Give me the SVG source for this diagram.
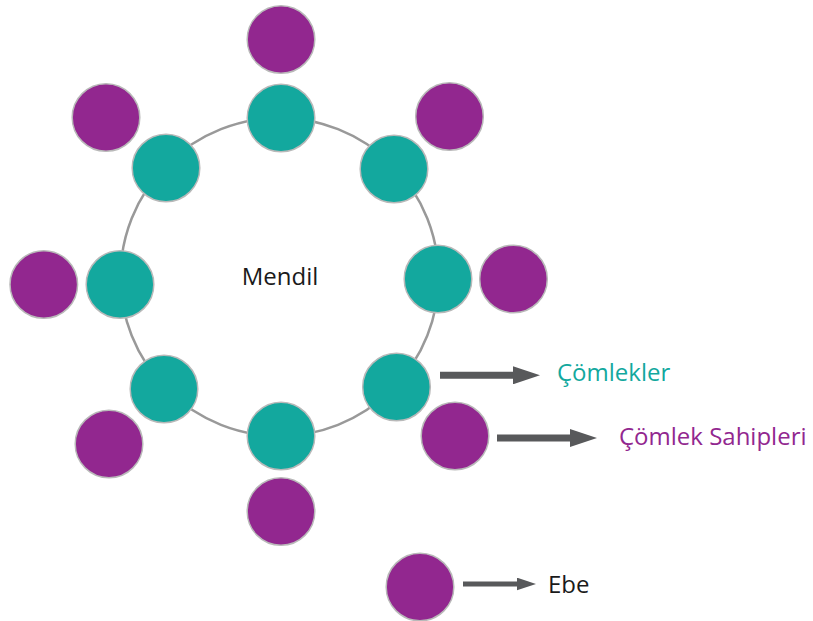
<svg xmlns="http://www.w3.org/2000/svg" width="813" height="621" viewBox="0 0 813 621">
  <style>
    .teal { fill: #13a89e; stroke: #b9b9b9; stroke-width: 1.5; }
    .purple { fill: #92278f; stroke: #b9b9b9; stroke-width: 1.5; }
    .ring { fill: none; stroke: #999999; stroke-width: 2.5; }
    .arrow { stroke: #58595b; fill: none; }
    .lbl { font-family: "Open Sans", "Noto Sans", "Liberation Sans", sans-serif; font-size: 24px; }
  </style>
  <defs>
    <marker id="head" viewBox="0 0 27 18" markerWidth="3.86" markerHeight="2.6" refX="1" refY="9" orient="auto" markerUnits="strokeWidth">
      <path d="M0,0 L27,9 L0,18 Z" fill="#58595b"/>
    </marker>
  </defs>
  <rect x="0" y="0" width="813" height="621" fill="#ffffff"/>

  <g id="mendil">
    <circle class="ring" cx="279.5" cy="277" r="159"/>
    <text class="lbl" x="280" y="285" text-anchor="middle" fill="#1a1a1a">Mendil</text>
  </g>

  <g id="comlekler">
    <circle id="teal-top" class="teal" cx="281" cy="118" r="33.8"/>
    <circle id="teal-upper-left" class="teal" cx="166" cy="168" r="33.8"/>
    <circle id="teal-left" class="teal" cx="120" cy="284.5" r="33.8"/>
    <circle id="teal-lower-left" class="teal" cx="164" cy="389" r="33.8"/>
    <circle id="teal-bottom" class="teal" cx="281" cy="436" r="33.8"/>
    <circle id="teal-lower-right" class="teal" cx="396.5" cy="387" r="33.8"/>
    <circle id="teal-right" class="teal" cx="438" cy="279" r="33.8"/>
    <circle id="teal-upper-right" class="teal" cx="394" cy="169" r="33.8"/>
  </g>

  <g id="sahipler">
    <circle id="purple-top" class="purple" cx="281" cy="39.5" r="33.8"/>
    <circle id="purple-upper-left" class="purple" cx="106" cy="117.5" r="33.8"/>
    <circle id="purple-upper-right" class="purple" cx="449.5" cy="116.5" r="33.8"/>
    <circle id="purple-left" class="purple" cx="43.8" cy="284.5" r="33.8"/>
    <circle id="purple-right" class="purple" cx="513.5" cy="279" r="33.8"/>
    <circle id="purple-lower-left" class="purple" cx="109" cy="444" r="33.8"/>
    <circle id="purple-bottom" class="purple" cx="281" cy="511.5" r="33.8"/>
    <circle id="purple-lower-right" class="purple" cx="455" cy="436" r="33.8"/>
  </g>

  <g id="ebe">
    <circle class="purple" cx="420" cy="587" r="33.8"/>
  </g>

  <g id="connectors">
    <line class="arrow" x1="440" y1="375.3" x2="514" y2="375.3" stroke-width="7" marker-end="url(#head)"/>
    <line class="arrow" x1="497" y1="438" x2="571" y2="438" stroke-width="7" marker-end="url(#head)"/>
    <line class="arrow" x1="463" y1="584" x2="517.5" y2="584" stroke-width="5" marker-end="url(#head)"/>
  </g>

  <g id="legend-labels">
    <text class="lbl" x="557" y="381" fill="#13a89e">Çömlekler</text>
    <text class="lbl" x="619" y="444.5" fill="#92278f">Çömlek Sahipleri</text>
    <text class="lbl" x="548" y="592.5" fill="#1a1a1a">Ebe</text>
  </g>
</svg>
